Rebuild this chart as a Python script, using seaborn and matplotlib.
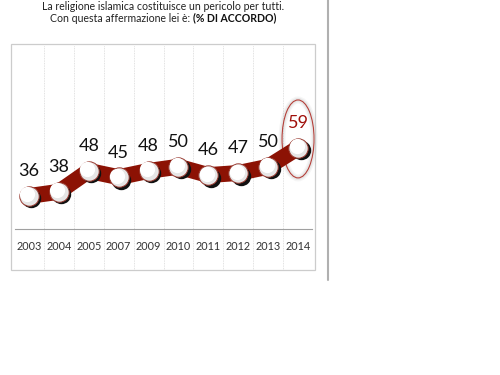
import matplotlib
matplotlib.use("Agg")
import matplotlib.pyplot as plt
import matplotlib.transforms as mtransforms
from matplotlib.patches import Ellipse, Rectangle
from matplotlib.lines import Line2D
import seaborn as sns
import pandas as pd

years = ["2003", "2004", "2005", "2007", "2009", "2010", "2011", "2012", "2013", "2014"]
values = [36, 38, 48, 45, 48, 50, 46, 47, 50, 59]
title_line1 = "La religione islamica costituisce un pericolo per tutti."
title_line2a = "Con questa affermazione lei è: "
title_line2b = "(% DI ACCORDO)"

sns.set_theme(style="white")
plt.rcParams['font.family'] = ['Lato', 'DejaVu Sans']

W, H = 500, 375
fig = plt.figure(figsize=(5, 3.75), dpi=100)
fig.patch.set_facecolor("white")

# axes in pixel coordinates
ax_left, ax_right, ax_top, ax_bottom = 14, 313, 44.5, 229
ax = fig.add_axes([ax_left / W, 1 - ax_bottom / H, (ax_right - ax_left) / W, (ax_bottom - ax_top) / H])
ax.set_facecolor("none")

df = pd.DataFrame({"pos": list(range(len(years))), "val": values, "year": years})

# vertical dotted separators
box_bottom = 270
ext = (box_bottom - ax_bottom) / (ax_bottom - ax_top)
for i in range(len(years) - 1):
    ax.axvline(i + 0.5, ymin=-ext, ymax=1, color="#d8d8d8", lw=0.6, ls=(0, (1, 1)), clip_on=False, zorder=0)

# ribbon
sns.lineplot(data=df, x="pos", y="val", ax=ax, color="#8c1204", lw=11.5, zorder=2,
             solid_joinstyle="miter", solid_capstyle="butt")

# marker shadow
shadow = mtransforms.offset_copy(ax.transData, fig=fig, x=2.5, y=-2.5, units="dots")
ax.scatter(df["pos"], df["val"], s=195, color="#111111", transform=shadow, zorder=3, linewidths=0)
sns.scatterplot(data=df, x="pos", y="val", ax=ax, s=195, color="#e6e6e6", edgecolor="#9a3a30",
                linewidth=0.7, zorder=4, legend=False)
# subtle shading
inner = mtransforms.offset_copy(ax.transData, fig=fig, x=-1.5, y=1.5, units="dots")
ax.scatter(df["pos"], df["val"], s=120, color="white", transform=inner, zorder=5, linewidths=0)

# value labels
for i, v in enumerate(values):
    last = i == len(values) - 1
    ax.annotate(str(v), (i, v), xytext=(0, 12), textcoords="offset points", ha="center", va="bottom",
                fontsize=13, color="#a00f0a" if last else "#111111", zorder=6)

# highlight ellipse around last
n = len(values) - 1
for lw, a in [(5, 0.08), (3, 0.12)]:
    ax.add_patch(Ellipse((n, values[n] + 4.3), 1.07, 37.3, fill=False, ec="#888888", lw=lw, alpha=a, zorder=1, clip_on=False))
ax.add_patch(Ellipse((n, values[n] + 4.3), 1.07, 37.3, fill=False, ec="#b5403a", lw=0.8, zorder=1, clip_on=False))

ax.set_xlim(-0.5, len(years) - 0.5)
ax.set_ylim(20.2, 108.5)
ax.set_xticks(range(len(years)))
ax.set_xticklabels(years)
ax.tick_params(axis="x", length=0, pad=9, labelsize=7.8, labelcolor="#333333")
ax.set_yticks([])
ax.set_xlabel("")
ax.set_ylabel("")
for s in ["top", "left", "right"]:
    ax.spines[s].set_visible(False)
ax.spines["bottom"].set_color("#a0a0a0")
ax.spines["bottom"].set_linewidth(0.8)
ax.spines["bottom"].set_bounds(-0.45, len(years) - 0.55)

# outer box
fig.patches.append(Rectangle((11 / W, 1 - 270 / H), (315 - 11) / W, (270 - 44.5) / H, transform=fig.transFigure,
                             fill=False, ec="#cccccc", lw=0.9))
# right vertical line
fig.add_artist(Line2D([328 / W, 328 / W], [1, 1 - 280 / H], transform=fig.transFigure, color="#b0b0b0", lw=1.5))

# titles
fig.text(163 / W, 1 - 7 / H, title_line1, ha="center", va="center", fontsize=7.6, color="#222222")
fig.canvas.draw()
r = fig.canvas.get_renderer()
t1 = fig.text(0, 0, title_line2a, fontsize=7.6, color="#222222")
t2 = fig.text(0, 0, title_line2b, fontsize=7.6, color="#111111", fontweight="bold")
w1 = t1.get_window_extent(r).width
w2 = t2.get_window_extent(r).width
x0 = 163 - (w1 + w2) / 2
y2 = 1 - 18 / H
t1.set_position((x0 / W, y2)); t1.set_va("center")
t2.set_position(((x0 + w1) / W, y2)); t2.set_va("center")

fig.savefig("out.png", dpi=100, facecolor="white")
